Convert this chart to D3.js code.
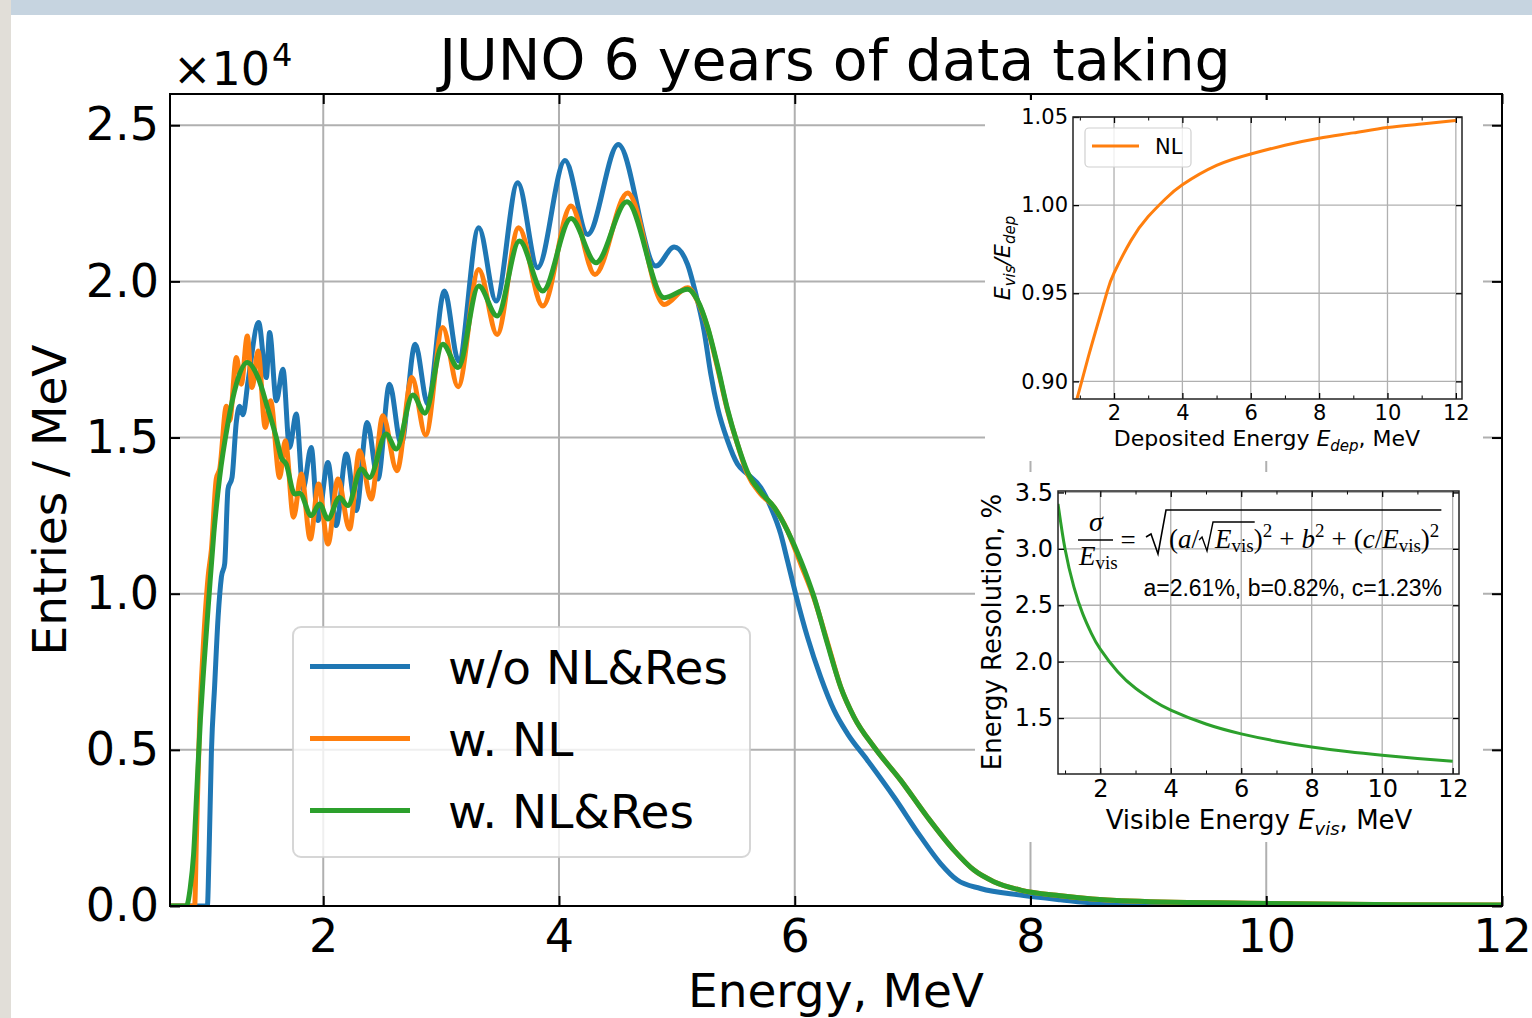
<!DOCTYPE html>
<html><head><meta charset="utf-8">
<script src="https://cdn.jsdelivr.net/npm/d3@7"></script>
<style>
html,body{margin:0;padding:0;background:#fff;}
svg{display:block;}
text{fill:#000;}
</style></head><body>
<svg id="c" width="1532" height="1018" font-family="DejaVu Sans"></svg>
<script>
// ---------------- DATA ----------------
// main spectrum: energy (MeV) and entries/MeV in units of 10^4
const seriesNames = ["w/o NL&Res", "w. NL", "w. NL&Res"];
const seriesColors = ["#1f77b4", "#ff7f0e", "#2ca02c"];

const blueE = [0.70,1.017,1.031,1.051,1.079,1.108,1.136,1.164,1.192,1.226,1.263,1.291,1.319,1.362,1.452,1.517,1.545,1.602,1.658,1.714,1.771,1.828,1.898,1.955,2.040,2.110,2.195,2.280,2.373,2.464,2.562,2.661,2.780,2.887,3.028,3.148,3.319,3.466,3.650,3.819,4.051,4.243,4.503,4.822,4.977,5.091,5.147,5.231,5.288,5.345,5.430,5.514,5.599,5.712,5.797,5.881,5.938,6.008,6.108,6.220,6.333,6.447,6.616,6.842,7.068,7.237,7.379,7.576,7.915,8.254,8.551,9.27,10.29,12.0];
const blueN = [0,0,0.164,0.489,0.707,0.924,1.053,1.096,1.335,1.372,1.551,1.600,1.573,1.680,1.868,1.692,1.836,1.618,1.719,1.468,1.575,1.335,1.468,1.234,1.420,1.218,1.447,1.266,1.548,1.367,1.671,1.479,1.799,1.607,1.969,1.745,2.172,1.937,2.316,2.044,2.387,2.150,2.438,2.049,2.110,2.054,1.980,1.841,1.703,1.596,1.490,1.415,1.383,1.340,1.277,1.191,1.106,0.999,0.861,0.733,0.627,0.552,0.467,0.349,0.222,0.136,0.083,0.056,0.035,0.020,0.009,0.003,0.001,0.0];

const orangeE = [0.70,0.909,0.924,0.952,0.980,1.023,1.051,1.093,1.122,1.178,1.206,1.263,1.305,1.356,1.396,1.447,1.508,1.553,1.630,1.678,1.748,1.814,1.890,1.960,2.040,2.125,2.223,2.308,2.407,2.506,2.625,2.752,2.869,3.014,3.144,3.319,3.475,3.658,3.862,4.102,4.305,4.582,4.892,5.091,5.175,5.260,5.345,5.430,5.514,5.599,5.712,5.825,5.938,6.051,6.164,6.277,6.390,6.503,6.673,6.898,7.125,7.350,7.520,7.689,7.915,8.254,8.771,9.847,11.14,12.0];
const orangeN = [0,0,0.218,0.598,0.815,1.053,1.140,1.368,1.400,1.600,1.554,1.756,1.671,1.825,1.660,1.777,1.532,1.618,1.372,1.490,1.245,1.383,1.175,1.351,1.159,1.367,1.207,1.458,1.303,1.570,1.394,1.692,1.508,1.852,1.663,2.038,1.830,2.172,1.921,2.241,2.022,2.283,1.926,1.980,1.937,1.852,1.724,1.586,1.479,1.383,1.319,1.277,1.202,1.095,0.985,0.845,0.701,0.605,0.509,0.403,0.285,0.179,0.115,0.078,0.051,0.033,0.017,0.009,0.004,0.003];

const greenE = [0.70,0.839,0.871,0.900,0.929,0.958,0.986,1.030,1.072,1.121,1.190,1.263,1.356,1.447,1.531,1.602,1.644,1.686,1.757,1.800,1.898,1.969,2.040,2.138,2.209,2.322,2.392,2.534,2.619,2.760,2.862,3.014,3.144,3.319,3.475,3.664,3.862,4.102,4.314,4.576,4.892,5.091,5.175,5.260,5.345,5.430,5.514,5.599,5.712,5.825,5.938,6.051,6.164,6.277,6.390,6.503,6.673,6.898,7.125,7.350,7.520,7.689,7.915,8.254,8.771,9.847,11.14,12.0];
const greenN = [0,0,0.056,0.164,0.381,0.598,0.760,0.988,1.194,1.372,1.543,1.671,1.740,1.692,1.591,1.500,1.436,1.415,1.319,1.322,1.250,1.287,1.239,1.308,1.282,1.399,1.372,1.511,1.463,1.636,1.578,1.799,1.724,1.985,1.889,2.129,1.969,2.201,2.060,2.255,1.948,1.975,1.940,1.855,1.730,1.590,1.480,1.390,1.325,1.277,1.202,1.106,0.989,0.840,0.701,0.605,0.509,0.403,0.285,0.179,0.115,0.078,0.051,0.033,0.017,0.009,0.004,0.003];

const mainXTicks = [2, 4, 6, 8, 10, 12];
const mainYTicks = [0, 0.5, 1.0, 1.5, 2.0, 2.5];

// inset 1: non-linearity Evis/Edep vs Edep
const nlE = [0.80,0.90,1.00,1.25,1.50,1.80,2.00,2.50,3.00,3.50,4.00,5.00,6.00,7.00,8.00,9.00,10.0,11.0,12.0];
const nlRatio = [0.882,0.889,0.896,0.914,0.931,0.951,0.9615,0.980,0.9935,1.0035,1.0115,1.0225,1.029,1.034,1.038,1.041,1.044,1.046,1.048];
const nlYTicks = [0.90, 0.95, 1.00, 1.05];

// inset 2: energy resolution (%) vs visible energy
const resE = [0.8,1.0,1.25,1.5,1.75,2.0,2.5,3.0,3.5,4.0,5.0,6.0,7.0,8.0,9.0,10.0,11.0,12.0];
const resPct = [3.399,2.999,2.663,2.426,2.249,2.111,1.908,1.764,1.656,1.571,1.447,1.360,1.295,1.244,1.203,1.170,1.142,1.118];
const resYTicks = [1.5, 2.0, 2.5, 3.0, 3.5];

const insetXTicks = [2, 4, 6, 8, 10, 12];
const insetXMinor = [1, 3, 5, 7, 9, 11];

// ---------------- DRAW ----------------
const W = 1532, H = 1018;
const svg = d3.select("#c");
svg.append("rect").attr("width", W).attr("height", H).attr("fill", "#fff");
svg.append("rect").attr("x", 0).attr("y", 0).attr("width", W).attr("height", 15).attr("fill", "#c6d4e0");
svg.append("rect").attr("x", 0).attr("y", 0).attr("width", 11).attr("height", H).attr("fill", "#e1ded8");

const M = {l: 170, r: 1502, t: 94, b: 906};
const x = d3.scaleLinear().domain([0.7, 12]).range([M.l, M.r]);
const y = d3.scaleLinear().domain([0, 2.6]).range([M.b, M.t]);

const defs = svg.append("defs");
defs.append("clipPath").attr("id", "mainclip").append("rect")
  .attr("x", M.l).attr("y", M.t).attr("width", M.r - M.l).attr("height", M.b - M.t);

// grid
const grid = svg.append("g").attr("stroke", "#b0b0b0").attr("stroke-width", 2);
grid.selectAll("line.gx").data(mainXTicks).join("line").attr("class", "gx")
  .attr("x1", d => x(d)).attr("x2", d => x(d)).attr("y1", M.t).attr("y2", M.b);
grid.selectAll("line.gy").data(mainYTicks).join("line").attr("class", "gy")
  .attr("x1", M.l).attr("x2", M.r).attr("y1", d => y(d)).attr("y2", d => y(d));

// curves
const line = d3.line().x(d => x(d[0])).y(d => y(d[1])).curve(d3.curveMonotoneX);
const series = [
  d3.zip(blueE, blueN),
  d3.zip(orangeE, orangeN),
  d3.zip(greenE, greenN)
];
const cg = svg.append("g").attr("clip-path", "url(#mainclip)");
series.forEach((s, i) => {
  cg.append("path").datum(s).attr("d", line).attr("fill", "none")
    .attr("stroke", seriesColors[i]).attr("stroke-width", 5)
    .attr("stroke-linejoin", "round").attr("stroke-linecap", "round");
});

// axes
function styleAxis(g, fs, sw) {
  g.select(".domain").remove();
  g.selectAll(".tick line").attr("stroke", "#000").attr("stroke-width", sw);
  g.selectAll(".tick text").attr("font-size", fs).attr("font-family", "DejaVu Sans").attr("fill", "#000");
}
const axB = svg.append("g").attr("transform", `translate(0,${M.b})`)
  .call(d3.axisBottom(x).tickValues(mainXTicks).tickSize(-10).tickPadding(13).tickFormat(d3.format("d")));
styleAxis(axB, 46, 2);
const axL = svg.append("g").attr("transform", `translate(${M.l},0)`)
  .call(d3.axisLeft(y).tickValues(mainYTicks).tickSize(-10).tickPadding(11).tickFormat(d3.format(".1f")));
styleAxis(axL, 46, 2);
const axT = svg.append("g").attr("transform", `translate(0,${M.t})`)
  .call(d3.axisTop(x).tickValues(mainXTicks).tickSize(-10).tickFormat(""));
styleAxis(axT, 46, 2);
const axR = svg.append("g").attr("transform", `translate(${M.r},0)`)
  .call(d3.axisRight(y).tickValues(mainYTicks).tickSize(-10).tickFormat(""));
styleAxis(axR, 46, 2);

svg.append("rect").attr("x", M.l).attr("y", M.t).attr("width", M.r - M.l).attr("height", M.b - M.t)
  .attr("fill", "none").attr("stroke", "#000").attr("stroke-width", 2);

// labels
svg.append("text").attr("x", 835).attr("y", 80).attr("text-anchor", "middle")
  .attr("font-size", 57).text("JUNO 6 years of data taking");
svg.append("text").attr("x", 173).attr("y", 85).attr("font-size", 46).text("×10");
svg.append("text").attr("x", 272).attr("y", 66).attr("font-size", 32).text("4");
svg.append("text").attr("x", 836).attr("y", 1007).attr("text-anchor", "middle")
  .attr("font-size", 47).text("Energy, MeV");
svg.append("text").attr("transform", "translate(66,500) rotate(-90)").attr("text-anchor", "middle")
  .attr("font-size", 47).text("Entries / MeV");

// legend
const lg = svg.append("g");
lg.append("rect").attr("x", 293).attr("y", 627).attr("width", 457).attr("height", 230).attr("rx", 8)
  .attr("fill", "#fff").attr("fill-opacity", 0.8).attr("stroke", "#cccccc").attr("stroke-opacity", 0.8).attr("stroke-width", 2);
seriesNames.forEach((n, i) => {
  const yy = 666.5 + i * 72;
  lg.append("line").attr("x1", 310).attr("x2", 410).attr("y1", yy).attr("y2", yy)
    .attr("stroke", seriesColors[i]).attr("stroke-width", 5);
  lg.append("text").attr("x", 448).attr("y", yy + 17).attr("font-size", 47).text(n);
});

// ---------------- INSETS ----------------
function drawInset(o) {
  const g = svg.append("g");
  g.append("rect").attr("x", o.bg[0]).attr("y", o.bg[1]).attr("width", o.bg[2]).attr("height", o.bg[3]).attr("fill", "#fff");
  const xs = d3.scaleLinear().domain(o.xd).range([o.l, o.r]);
  const ys = d3.scaleLinear().domain(o.yd).range([o.b, o.t]);
  const gg = g.append("g").attr("stroke", "#b0b0b0").attr("stroke-width", 1.3);
  gg.selectAll("line.a").data(o.xt).join("line").attr("class", "a")
    .attr("x1", d => xs(d)).attr("x2", d => xs(d)).attr("y1", o.t).attr("y2", o.b);
  gg.selectAll("line.b").data(o.yt).join("line").attr("class", "b")
    .attr("x1", o.l).attr("x2", o.r).attr("y1", d => ys(d)).attr("y2", d => ys(d));
  defs.append("clipPath").attr("id", o.id).append("rect")
    .attr("x", o.l).attr("y", o.t).attr("width", o.r - o.l).attr("height", o.b - o.t);
  const ln = d3.line().x(d => xs(d[0])).y(d => ys(d[1])).curve(d3.curveNatural);
  g.append("path").datum(o.data).attr("clip-path", `url(#${o.id})`).attr("d", ln)
    .attr("fill", "none").attr("stroke", o.color).attr("stroke-width", 3);
  const sw = 1.3;
  const b = g.append("g").attr("transform", `translate(0,${o.b})`)
    .call(d3.axisBottom(xs).tickValues(o.xt).tickSize(-6).tickPadding(o.xpad).tickFormat(d3.format("d")));
  styleAxis(b, o.tfs, sw);
  const bm = g.append("g").attr("transform", `translate(0,${o.b})`)
    .call(d3.axisBottom(xs).tickValues(insetXMinor).tickSize(-3.5).tickFormat(""));
  styleAxis(bm, o.tfs, 1);
  const t = g.append("g").attr("transform", `translate(0,${o.t})`)
    .call(d3.axisTop(xs).tickValues(o.xt).tickSize(-6).tickFormat(""));
  styleAxis(t, o.tfs, sw);
  const tm = g.append("g").attr("transform", `translate(0,${o.t})`)
    .call(d3.axisTop(xs).tickValues(insetXMinor).tickSize(-3.5).tickFormat(""));
  styleAxis(tm, o.tfs, 1);
  const l = g.append("g").attr("transform", `translate(${o.l},0)`)
    .call(d3.axisLeft(ys).tickValues(o.yt).tickSize(-6).tickPadding(o.ypad).tickFormat(d3.format(o.yfmt)));
  styleAxis(l, o.tfs, sw);
  const r = g.append("g").attr("transform", `translate(${o.r},0)`)
    .call(d3.axisRight(ys).tickValues(o.yt).tickSize(-6).tickFormat(""));
  styleAxis(r, o.tfs, sw);
  g.append("rect").attr("x", o.l).attr("y", o.t).attr("width", o.r - o.l).attr("height", o.b - o.t)
    .attr("fill", "none").attr("stroke", "#222").attr("stroke-width", 1.5);
  return {g, xs, ys};
}

// inset 1
const in1 = drawInset({
  id: "clip1", bg: [985, 100, 498, 361],
  l: 1073, r: 1462, t: 117, b: 399,
  xd: [0.8, 12.18], yd: [0.89, 1.05],
  xt: insetXTicks, yt: nlYTicks, yfmt: ".2f",
  tfs: 21, xpad: 6, ypad: 5,
  data: d3.zip(nlE, nlRatio), color: "#ff7f0e"
});
in1.g.append("rect").attr("x", 1085).attr("y", 128).attr("width", 106).attr("height", 39).attr("rx", 4)
  .attr("fill", "#fff").attr("fill-opacity", 0.8).attr("stroke", "#d0d0d0").attr("stroke-width", 1.2);
in1.g.append("line").attr("x1", 1092).attr("x2", 1139).attr("y1", 146).attr("y2", 146)
  .attr("stroke", "#ff7f0e").attr("stroke-width", 3);
in1.g.append("text").attr("x", 1155).attr("y", 154).attr("font-size", 21).text("NL");
// x label
{
  const t = in1.g.append("text").attr("x", 1267).attr("y", 446).attr("text-anchor", "middle").attr("font-size", 22);
  t.append("tspan").text("Deposited Energy ");
  t.append("tspan").attr("font-style", "italic").text("E");
  t.append("tspan").attr("font-style", "italic").attr("font-size", 15).attr("dy", 5).text("dep");
  t.append("tspan").attr("dy", -5).text(", MeV");
}
// y label
{
  const t = in1.g.append("text").attr("transform", "translate(1010,258) rotate(-90)").attr("text-anchor", "middle")
    .attr("font-size", 22).attr("font-style", "italic");
  t.append("tspan").text("E");
  t.append("tspan").attr("font-size", 15).attr("dy", 5).text("vis");
  t.append("tspan").attr("dy", -5).text("/E");
  t.append("tspan").attr("font-size", 15).attr("dy", 5).text("dep");
}

// inset 2
const in2 = drawInset({
  id: "clip2", bg: [975, 472, 508, 370],
  l: 1058, r: 1459, t: 491, b: 774,
  xd: [0.8, 12.18], yd: [1.004, 3.513],
  xt: insetXTicks, yt: resYTicks, yfmt: ".1f",
  tfs: 24, xpad: 6, ypad: 5,
  data: d3.zip(resE, resPct), color: "#2ca02c"
});
{
  const t = in2.g.append("text").attr("x", 1259).attr("y", 829).attr("text-anchor", "middle").attr("font-size", 26);
  t.append("tspan").text("Visible Energy ");
  t.append("tspan").attr("font-style", "italic").text("E");
  t.append("tspan").attr("font-style", "italic").attr("font-size", 18).attr("dy", 6).text("vis");
  t.append("tspan").attr("dy", -6).text(", MeV");
}
in2.g.append("text").attr("transform", "translate(1001,632) rotate(-90)").attr("text-anchor", "middle")
  .attr("font-size", 26).text("Energy Resolution, %");
in2.g.append("text").attr("x", 1442).attr("y", 596).attr("text-anchor", "end")
  .style("font-family", "'Liberation Sans', Arial, sans-serif").attr("font-size", 23).text("a=2.61%, b=0.82%, c=1.23%");

// formula
const SERIF = "'Liberation Serif', 'Times New Roman', serif";
function mathText(g, x0, y0, items) {
  let cx = x0; const pos = [];
  items.forEach(it => {
    if (it.t === "") { pos.push({x: cx, w: 0}); cx += (it.sp || 0); return; }
    const t = g.append("text").attr("x", cx).attr("y", y0 + (it.dy || 0))
      .style("font-family", SERIF).attr("font-style", it.it ? "italic" : "normal")
      .attr("font-size", it.fs || 27).text(it.t);
    const w = t.node().getComputedTextLength();
    pos.push({x: cx, w});
    cx += w + (it.sp || 0);
  });
  return {end: cx, pos};
}
{
  const fg = in2.g.append("g");
  fg.append("text").attr("x", 1096).attr("y", 531).attr("text-anchor", "middle")
    .style("font-family", SERIF).attr("font-style", "italic").attr("font-size", 28).text("σ");
  fg.append("line").attr("x1", 1078).attr("x2", 1113).attr("y1", 540).attr("y2", 540).attr("stroke", "#000").attr("stroke-width", 1.3);
  mathText(fg, 1079, 565, [{t: "E", it: true}, {t: "vis", fs: 19, dy: 4}]);
  fg.append("text").attr("x", 1128).attr("y", 549).attr("text-anchor", "middle")
    .style("font-family", SERIF).attr("font-size", 27).text("=");
  const m = mathText(fg, 1169, 548, [
    {t: "("}, {t: "a", it: true}, {t: "/", sp: 1}, {t: "", sp: 15},
    {t: "E", it: true}, {t: "vis", fs: 19, dy: 4}, {t: ")"}, {t: "2", fs: 19, dy: -11, sp: 7},
    {t: "+", sp: 7}, {t: "b", it: true}, {t: "2", fs: 19, dy: -11, sp: 7},
    {t: "+", sp: 7}, {t: "("}, {t: "c", it: true}, {t: "/"}, {t: "E", it: true},
    {t: "vis", fs: 19, dy: 4}, {t: ")"}, {t: "2", fs: 19, dy: -11}
  ]);
  const p3 = m.pos[3].x, p5 = m.pos[5];
  fg.append("path").attr("d", `M${p3 - 1},540 L${p3 + 2},537 L${p3 + 7},551 L${p3 + 13},522 L${p5.x + p5.w + 1},522`)
    .attr("fill", "none").attr("stroke", "#000").attr("stroke-width", 1.4);
  fg.append("path").attr("d", `M1146,537 L1151,534 L1158,554 L1166,510 L${m.end + 2},510`)
    .attr("fill", "none").attr("stroke", "#000").attr("stroke-width", 1.6);
}
</script>
</body></html>
